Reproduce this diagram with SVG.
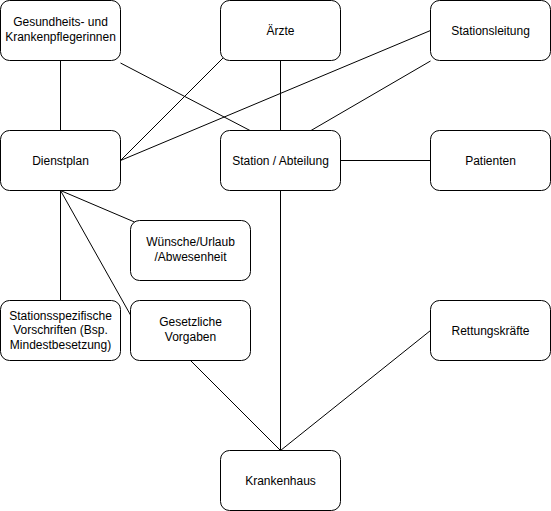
<svg xmlns="http://www.w3.org/2000/svg" width="551" height="511" viewBox="0 0 551 511">
<style>
.n rect{fill:#fff;stroke:#000;stroke-width:1}
.n text{font-family:"Liberation Sans",Arial,sans-serif;font-size:12px;fill:#000;text-anchor:middle}
#edges line{stroke:#000;stroke-width:1;fill:none}
</style>
<rect width="551" height="511" fill="#fff"/>
<g id="edges">
<line x1="60.5" y1="60.5" x2="60.5" y2="130.5"/>
<line x1="120.5" y1="63" x2="250" y2="130.5"/>
<line x1="223.5" y1="57.5" x2="120.5" y2="160.5"/>
<line x1="280.5" y1="60.5" x2="280.5" y2="130.5"/>
<line x1="430.5" y1="30.5" x2="120.5" y2="160.5"/>
<line x1="430.5" y1="61" x2="311" y2="130.5"/>
<line x1="340.5" y1="160.5" x2="430.5" y2="160.5"/>
<line x1="60.5" y1="190.5" x2="134.5" y2="222"/>
<line x1="60.5" y1="190.5" x2="60.5" y2="300.5"/>
<line x1="60.5" y1="190.5" x2="130.5" y2="315"/>
<line x1="190.5" y1="360.5" x2="280.5" y2="450.5"/>
<line x1="280.5" y1="190.5" x2="280.5" y2="450.5"/>
<line x1="430.5" y1="330.5" x2="280.5" y2="450.5"/>
</g>
<g id="n-gesundheits" class="n"><rect x="0.5" y="0.5" width="120" height="60" rx="9"/><text x="60.5" y="26">Gesundheits- und</text><text x="60.5" y="40.5">Krankenpflegerinnen</text></g>
<g id="n-aerzte" class="n"><rect x="220.5" y="0.5" width="120" height="60" rx="9"/><text x="280.5" y="34.5">Ärzte</text></g>
<g id="n-stationsleitung" class="n"><rect x="430.5" y="0.5" width="120" height="60" rx="9"/><text x="490.5" y="34.5">Stationsleitung</text></g>
<g id="n-dienstplan" class="n"><rect x="0.5" y="130.5" width="120" height="60" rx="9"/><text x="60.5" y="164.5">Dienstplan</text></g>
<g id="n-station" class="n"><rect x="220.5" y="130.5" width="120" height="60" rx="9"/><text x="280.5" y="164.5">Station / Abteilung</text></g>
<g id="n-patienten" class="n"><rect x="430.5" y="130.5" width="120" height="60" rx="9"/><text x="490.5" y="164.5">Patienten</text></g>
<g id="n-wuensche" class="n"><rect x="130.5" y="220.5" width="120" height="60" rx="9"/><text x="190.5" y="246">Wünsche/Urlaub</text><text x="190.5" y="260.5">/Abwesenheit</text></g>
<g id="n-stationsspezifisch" class="n"><rect x="0.5" y="300.5" width="120" height="60" rx="9"/><text x="60.5" y="319.5">Stationsspezifische</text><text x="60.5" y="334">Vorschriften (Bsp.</text><text x="60.5" y="348.5">Mindestbesetzung)</text></g>
<g id="n-gesetzlich" class="n"><rect x="130.5" y="300.5" width="120" height="60" rx="9"/><text x="190.5" y="326">Gesetzliche</text><text x="190.5" y="340.5">Vorgaben</text></g>
<g id="n-rettung" class="n"><rect x="430.5" y="300.5" width="120" height="60" rx="9"/><text x="490.5" y="334.5">Rettungskräfte</text></g>
<g id="n-krankenhaus" class="n"><rect x="220.5" y="450.5" width="120" height="60" rx="9"/><text x="280.5" y="484.5">Krankenhaus</text></g>
</svg>
